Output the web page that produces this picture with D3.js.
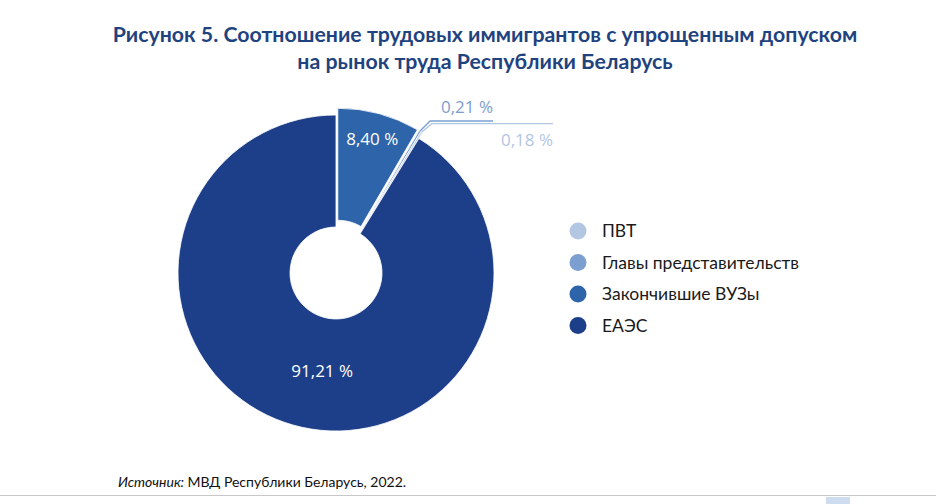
<!DOCTYPE html>
<html>
<head>
<meta charset="utf-8">
<script src="https://cdn.jsdelivr.net/npm/d3@7"></script>
<style>
  html, body { margin: 0; padding: 0; background: #fff; }
  svg { display: block; }
</style>
</head>
<body>
<svg id="chart" width="936" height="504"></svg>
<script>
// ── DATA ────────────────────────────────────────────
const categories  = ['Закончившие ВУЗы', 'Главы представительств', 'ПВТ', 'ЕАЭС'];
const shares      = [8.40, 0.21, 0.18, 91.21];
const valueLabels = ['8,40 %', '0,21 %', '0,18 %', '91,21 %'];
const legendOrder = ['ПВТ', 'Главы представительств', 'Закончившие ВУЗы', 'ЕАЭС'];
const titleLines  = ['Рисунок 5. Соотношение трудовых иммигрантов с упрощенным допуском',
                     'на рынок труда Республики Беларусь'];

const color = d3.scaleOrdinal()
  .domain(['ЕАЭС', 'Закончившие ВУЗы', 'Главы представительств', 'ПВТ'])
  .range(['#1d3f8a', '#2d64aa', '#7c9fd2', '#b3c7e3']);

const W = 936, H = 504;
const cx = 336, cy = 273;
const R = 158, r0 = 46;
const explode = 7;

const svg = d3.select('#chart');

// ── Title ──
svg.append('g').selectAll('text')
  .data(titleLines)
  .enter().append('text')
  .attr('x', 485)
  .attr('y', (d, i) => 42 + i * 27)
  .attr('text-anchor', 'middle')
  .attr('font-family', 'Lato, "Open Sans", sans-serif')
  .attr('font-weight', 700)
  .attr('font-size', '21.3px')
  .attr('fill', '#1f437f')
  .text(d => d);

// ── Donut ──
const pie = d3.pie().sort(null).value(d => d.v);
const arcs = pie(categories.map((c, i) => ({ c, v: shares[i], label: valueLabels[i] })));
const arc = d3.arc().innerRadius(r0).outerRadius(R);

function shift(d) {
  if (d.data.c === 'ЕАЭС') return [0, 0];
  const a = (d.startAngle + d.endAngle) / 2;
  return [Math.sin(a) * explode, -Math.cos(a) * explode];
}

const g = svg.append('g').attr('transform', `translate(${cx},${cy})`);

g.selectAll('path.slice')
  .data(arcs)
  .enter().append('path')
  .attr('class', 'slice')
  .attr('d', arc)
  .attr('transform', d => `translate(${shift(d)})`)
  .attr('fill', d => color(d.data.c))
  .attr('stroke', '#fff')
  .attr('stroke-width', 0.8);

// labels inside the big slices
const big = arcs.filter(d => d.data.v > 5);
g.selectAll('text.in')
  .data(big)
  .enter().append('text')
  .attr('class', 'in')
  .attr('transform', d => {
    const s = shift(d);
    let p;
    if (d.data.c === 'ЕАЭС') { p = arc.centroid(d); p[0] += 14; }
    else p = d3.arc().innerRadius(132).outerRadius(132).centroid(d);
    return `translate(${p[0] + s[0]},${p[1] + s[1]})`;
  })
  .attr('text-anchor', 'middle')
  .attr('dy', '0.35em')
  .attr('font-family', '"Open Sans", sans-serif')
  .attr('font-size', '17px')
  .attr('fill', '#fff')
  .text(d => d.data.label);

// callouts for the thin slices
const small = arcs.filter(d => d.data.v < 1);
const lineEnds = [157, 217];
const labelDy  = [-8, 22];
small.forEach((d, i) => {
  const s = shift(d);
  const a = (d.startAngle + d.endAngle) / 2;
  const p0 = [Math.sin(a) * R + s[0], -Math.cos(a) * R + s[1]];
  const p1 = [p0[0] + 10, p0[1] - 10 + i * 1.6];
  const p2 = [lineEnds[i], p1[1]];
  g.append('path')
    .attr('d', d3.line()([p0, p1, p2]))
    .attr('fill', 'none')
    .attr('stroke', color(d.data.c))
    .attr('stroke-width', 1.4);
  g.append('text')
    .attr('x', p2[0])
    .attr('y', p2[1] + labelDy[i])
    .attr('text-anchor', 'end')
    .attr('font-family', '"Open Sans", sans-serif')
    .attr('font-size', '17px')
    .attr('fill', i === 0 ? '#7d9dcd' : '#b3c6e1')
    .text(d.data.label);
});

// ── Legend ──
const legend = svg.append('g').attr('transform', 'translate(578,231)');
const item = legend.selectAll('g')
  .data(legendOrder)
  .enter().append('g')
  .attr('transform', (d, i) => `translate(0,${i * 31.5})`);
item.append('circle').attr('r', 8.5).attr('fill', d => color(d));
item.append('text')
  .attr('x', 24)
  .attr('dy', '0.35em')
  .attr('font-family', 'Lato, "Open Sans", sans-serif')
  .attr('font-size', '17.5px')
  .attr('fill', '#1a1a1a')
  .text(d => d);

// ── Source ──
const src = svg.append('text')
  .attr('x', 118).attr('y', 487)
  .attr('font-family', 'Lato, "Open Sans", sans-serif')
  .attr('font-size', '14px')
  .attr('fill', '#111');
src.append('tspan').attr('font-style', 'italic').text('Источник: ');
src.append('tspan').text('МВД Республики Беларусь, 2022.');

svg.append('line')
  .attr('x1', 0).attr('x2', W).attr('y1', 495.5).attr('y2', 495.5)
  .attr('stroke', '#c8c8c8').attr('stroke-width', 1);
svg.append('rect')
  .attr('x', 826).attr('y', 497).attr('width', 24).attr('height', 7)
  .attr('fill', '#cddcee');
</script>
</body>
</html>
